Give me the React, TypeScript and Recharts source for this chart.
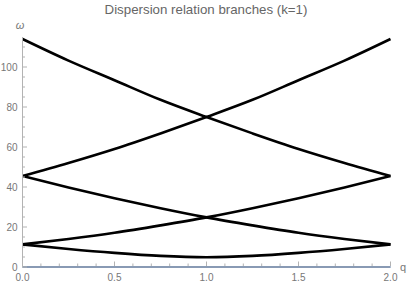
import { LineChart, Line, XAxis, YAxis } from "recharts";

// values
const qValues = [0, 0.25, 0.5, 0.75, 1, 1.25, 1.5, 1.75, 2];
const flatBranch = [0, 0, 0, 0, 0, 0, 0, 0, 0];
const lowestBranch = [11.3, 9.0, 7.05, 5.55, 4.9, 5.55, 7.05, 9.0, 11.3];
const middleRising = [11.3, 14.0, 17.1, 20.8, 24.8, 29.4, 34.4, 39.8, 45.5];
const middleFalling = [45.5, 39.8, 34.4, 29.4, 24.8, 20.8, 17.1, 14.0, 11.3];
const upperRising = [45.5, 52.0, 59.0, 66.8, 75.0, 83.6, 93.4, 103.2, 114.0];
const upperFalling = [114.0, 103.2, 93.4, 83.6, 75.0, 66.8, 59.0, 52.0, 45.5];

const xTicks = [
  0, 0.1, 0.2, 0.3, 0.4, 0.5, 0.6, 0.7, 0.8, 0.9, 1, 1.1, 1.2, 1.3, 1.4, 1.5,
  1.6, 1.7, 1.8, 1.9, 2,
];
const xMajor = [0, 0.5, 1, 1.5, 2];
const yTicks = [
  0, 5, 10, 15, 20, 25, 30, 35, 40, 45, 50, 55, 60, 65, 70, 75, 80, 85, 90, 95,
  100, 105, 110,
];
const yMajor = [0, 20, 40, 60, 80, 100];

const title = "Dispersion relation branches (k=1)";

const data = qValues.map((q, i) => ({
  q,
  flat: flatBranch[i],
  low: lowestBranch[i],
  midUp: middleRising[i],
  midDown: middleFalling[i],
  upUp: upperRising[i],
  upDown: upperFalling[i],
}));

const FONT = "'Liberation Sans', Arial, sans-serif";
const AXIS = "#b3b3b3";
const LABEL = "#777";

const isMajor = (v: number, list: number[]) =>
  list.some((m) => Math.abs(m - v) < 1e-6);

// tick y arrives one px below the axis line (axis height = 1)
function XTick(props: any) {
  const { x, y, payload } = props;
  const major = isMajor(payload.value, xMajor);
  const ay = y - 1;
  return (
    <g>
      <line x1={x} x2={x} y1={ay} y2={ay - (major ? 4.5 : 2.5)} stroke={AXIS} />
      {major && (
        <text
          x={x}
          y={ay + 15}
          textAnchor="middle"
          fontSize={10}
          fontFamily={FONT}
          fill={LABEL}
        >
          {payload.value.toFixed(1)}
        </text>
      )}
    </g>
  );
}

function YTick(props: any) {
  const { x, y, payload } = props;
  const major = isMajor(payload.value, yMajor);
  return (
    <g>
      <line x1={x} x2={x + (major ? 4.5 : 2.5)} y1={y} y2={y} stroke={AXIS} />
      {major && (
        <text
          x={x - 5}
          y={y + 3.5}
          textAnchor="end"
          fontSize={10}
          fontFamily={FONT}
          fill={LABEL}
        >
          {payload.value}
        </text>
      )}
    </g>
  );
}

const branch = (key: string, color = "#000", w = 2.6) => (
  <Line
    key={key}
    type="monotone"
    dataKey={key}
    stroke={color}
    strokeWidth={w}
    dot={false}
    isAnimationActive={false}
  />
);

export default function App() {
  return (
    <div style={{ position: "absolute", left: 0, top: 0, width: 407, height: 288, background: "#fff" }}>
      <LineChart
        width={407}
        height={288}
        data={data}
        margin={{ top: 37, right: 16.5, bottom: 20, left: 21.5 }}
      >
        <XAxis
          type="number"
          dataKey="q"
          domain={[0, 2]}
          ticks={xTicks}
          interval={0}
          height={1}
          tickSize={0}
          tickMargin={0}
          tickLine={false}
          axisLine={{ stroke: AXIS }}
          tick={<XTick />}
        />
        <YAxis
          type="number"
          domain={[0, 115]}
          ticks={yTicks}
          interval={0}
          width={1}
          tickSize={0}
          tickMargin={0}
          tickLine={false}
          axisLine={{ stroke: AXIS }}
          tick={<YTick />}
        />
        {branch("flat", "#5E81B5", 1.8)}
        {branch("low")}
        {branch("midUp")}
        {branch("midDown")}
        {branch("upUp")}
        {branch("upDown")}
      </LineChart>
      <svg
        width={407}
        height={288}
        style={{ position: "absolute", left: 0, top: 0, pointerEvents: "none" }}
      >
        <text x={206} y={14} textAnchor="middle" fontSize={13.3} fontFamily={FONT} fill="#666">
          {title}
        </text>
        <text x={20} y={29} textAnchor="middle" fontSize={11} fontStyle="italic" fontFamily={FONT} fill={LABEL}>
          ω
        </text>
        <text x={400} y={271} fontSize={11} fontFamily={FONT} fill={LABEL}>
          q
        </text>
      </svg>
    </div>
  );
}
